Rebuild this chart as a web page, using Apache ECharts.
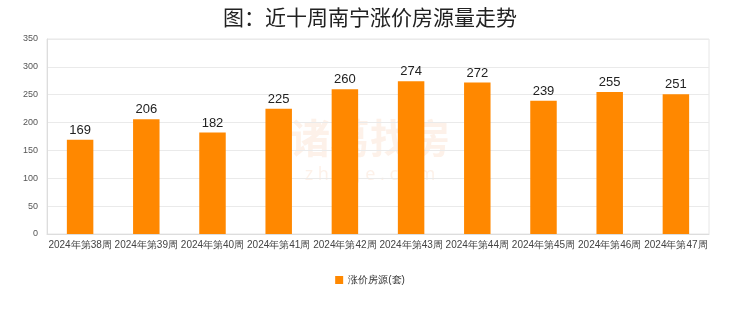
<!DOCTYPE html>
<html><head><meta charset="utf-8">
<script src="https://cdn.jsdelivr.net/npm/echarts@6/dist/echarts.min.js"></script>
<style>html,body{margin:0;padding:0;background:#fff}#c{width:740px;height:312px}</style>
</head><body><div id="c"></div>
<script>
var categories = ['2024年第38周','2024年第39周','2024年第40周','2024年第41周','2024年第42周','2024年第43周','2024年第44周','2024年第45周','2024年第46周','2024年第47周'];
var values = [169,206,182,225,260,274,272,239,255,251];
var seriesName = '涨价房源(套)';
var chart = echarts.init(document.getElementById('c'));
chart.setOption({
  animation:false,
  backgroundColor:'#fff',
  title:{text:'图：近十周南宁涨价房源量走势',left:'center',top:2,textStyle:{fontSize:21,fontWeight:'normal',color:'#222',fontFamily:'Noto Sans CJK SC'}},
  graphic:[{type:'text',left:'center',top:118,style:{text:'诸葛找房',fontSize:40,fill:'rgba(240,170,120,0.16)',fontFamily:'Noto Sans CJK SC',fontWeight:'bold'}},
           {type:'text',left:'center',top:166,style:{text:'z h u g e . c o m',fontSize:18,fill:'rgba(240,170,120,0.16)',fontFamily:'Noto Sans'}}],
  grid:{left:47,right:31,top:39,bottom:78,show:true,borderColor:'#e6e6e6',borderWidth:1},
  legend:{bottom:22,left:'center',itemWidth:8,itemHeight:8,icon:'rect',textStyle:{fontSize:10,color:'#333'},data:[seriesName]},
  xAxis:{type:'category',data:categories,axisTick:{show:false},axisLine:{lineStyle:{color:'#ddd'}},
    axisLabel:{interval:0,fontSize:10,color:'#444',margin:6}},
  yAxis:{type:'value',min:0,max:350,interval:50,axisLine:{show:true,lineStyle:{color:'#ddd'}},
    splitLine:{lineStyle:{color:'#eaeaea'}},axisLabel:{fontSize:9,color:'#555',margin:9}},
  series:[{name:seriesName,type:'bar',data:values,barWidth:'40%',itemStyle:{color:'#FF8800'},
    label:{show:true,position:'top',fontSize:13,color:'#222',distance:3}}]
});
</script></body></html>
